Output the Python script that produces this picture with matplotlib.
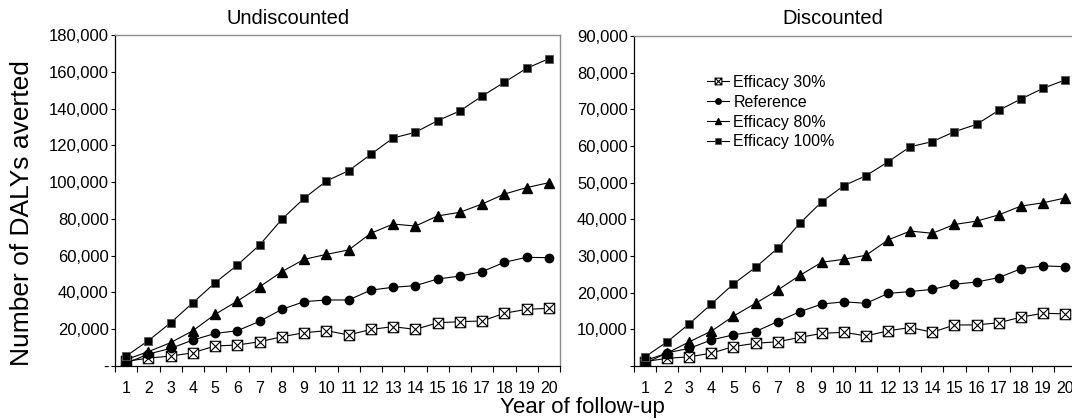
import matplotlib
matplotlib.use("Agg")
import matplotlib.pyplot as plt
from matplotlib.path import Path
from matplotlib.ticker import FixedLocator, FuncFormatter, NullFormatter

plt.rcParams['font.family'] = ['Liberation Sans', 'DejaVu Sans']

years = list(range(1, 21))
series_names = ["Efficacy 30%", "Reference", "Efficacy 80%", "Efficacy 100%"]

# Undiscounted
undisc_30 = [2500, 4300, 5400, 7200, 10900, 11400, 13200, 15900, 18100, 19200,
             16900, 19900, 21400, 19900, 23500, 24100, 24500, 28700, 30800, 31400]
undisc_ref = [1500, 6500, 9600, 14100, 17700, 19200, 24300, 30800, 35000, 35900,
              35900, 41300, 42800, 43700, 47300, 48900, 51300, 56400, 59100, 58900]
undisc_80 = [3500, 7800, 12700, 19200, 28100, 35300, 43100, 51300, 58000, 60700,
             63100, 72200, 77200, 76100, 81600, 83600, 88100, 93500, 97000, 99700]
undisc_100 = [5400, 13800, 23500, 34400, 45300, 54900, 65800, 79800, 91200, 100600,
              106200, 115100, 124000, 127100, 133400, 138700, 146800, 154300, 161900, 167100]

# Discounted
disc_30 = [1200, 2100, 2500, 3500, 5300, 6200, 6600, 7800, 8900, 9200,
           8200, 9600, 10500, 9200, 11200, 11200, 11800, 13300, 14400, 14200]
disc_ref = [700, 3600, 4800, 7100, 8500, 9400, 12100, 14800, 16900, 17500,
            17100, 19800, 20300, 20900, 22300, 22900, 24100, 26500, 27300, 27100]
disc_80 = [1500, 3500, 6600, 9500, 13600, 17100, 20700, 24700, 28300, 29100,
           30200, 34400, 36800, 36200, 38600, 39500, 41200, 43600, 44500, 45800]
disc_100 = [2500, 6600, 11500, 16900, 22400, 26900, 32100, 38900, 44800, 49200,
            51900, 55700, 59800, 61200, 63900, 65900, 69700, 72800, 75700, 78000]

titles = ["Undiscounted", "Discounted"]
y_max = [180000, 90000]
y_step = [20000, 10000]

# crossed-box marker
xbox = Path([(-1, -1), (1, -1), (1, 1), (-1, 1), (-1, -1),
             (-1, -1), (1, 1), (-1, 1), (1, -1)],
            [Path.MOVETO, Path.LINETO, Path.LINETO, Path.LINETO, Path.CLOSEPOLY,
             Path.MOVETO, Path.LINETO, Path.MOVETO, Path.LINETO])

styles = [
    dict(marker=xbox, markersize=7.5, markerfacecolor='white', markeredgecolor='black', markeredgewidth=0.8),
    dict(marker='o', markersize=6.0, markerfacecolor='black', markeredgecolor='black'),
    dict(marker='^', markersize=6.8, markerfacecolor='black', markeredgecolor='black'),
    dict(marker='s', markersize=6.3, markerfacecolor='black', markeredgecolor='#555555', markeredgewidth=0.6),
]

fig = plt.figure(figsize=(10.72, 4.19), dpi=100)
W, H = 1072, 419
ax1 = fig.add_axes([115 / W, 1 - 366 / H, 445 / W, 331 / H])
ax2 = fig.add_axes([634 / W, 1 - 366 / H, 442 / W, 330 / H])

data = [[undisc_30, undisc_ref, undisc_80, undisc_100],
        [disc_30, disc_ref, disc_80, disc_100]]
title_x = [288, 833]

for k, ax in enumerate([ax1, ax2]):
    for name, vals, st in zip(series_names, data[k], styles):
        ax.plot(years, vals, color='black', linewidth=0.8, label=name, **st)
    ax.set_xlim(0.5, 20.5)
    ax.set_ylim(0, y_max[k])
    ax.xaxis.set_major_locator(FixedLocator([i + 0.5 for i in range(0, 21)]))
    ax.xaxis.set_major_formatter(NullFormatter())
    ax.xaxis.set_minor_locator(FixedLocator(years))
    ax.xaxis.set_minor_formatter(FuncFormatter(lambda v, p: f"{int(v)}"))
    ax.tick_params(axis='x', which='major', direction='out', length=4, width=0.8, color='black')
    ax.tick_params(axis='x', which='minor', length=0, pad=11, labelsize=11.5)
    ax.yaxis.set_major_locator(FixedLocator(list(range(0, y_max[k] + 1, y_step[k]))))
    if k == 0:
        ax.yaxis.set_major_formatter(FuncFormatter(lambda v, p: "-" if v == 0 else f"{int(v):,}"))
    else:
        ax.yaxis.set_major_formatter(FuncFormatter(lambda v, p: "" if v == 0 else f"{int(v):,}"))
    ax.tick_params(axis='y', direction='out', length=3, width=0.8, pad=1.5, labelsize=12)
    for s in ['left', 'bottom']:
        ax.spines[s].set_color('black')
        ax.spines[s].set_linewidth(0.9)
    for s in ['top', 'right']:
        ax.spines[s].set_color('#8c8c8c')
        ax.spines[s].set_linewidth(1.0)
    fig.text(title_x[k] / W, 1 - 19 / H, titles[k], ha='center', va='center', fontsize=14.5)

leg = ax2.legend(loc='upper left', bbox_to_anchor=(707 / W, 1 - 75 / H),
                 bbox_transform=fig.transFigure, frameon=False, fontsize=11.5,
                 handlelength=1.4, handletextpad=0.25, labelspacing=0.3,
                 borderpad=0, borderaxespad=0, markerscale=0.65)

fig.text(22 / W, 1 - 213 / H, "Number of DALYs averted", rotation=90,
         ha='center', va='center', fontsize=19)
fig.text(582 / W, 1 - 407 / H, "Year of follow-up", ha='center', va='center', fontsize=16)

fig.savefig("out.png", dpi=100)
